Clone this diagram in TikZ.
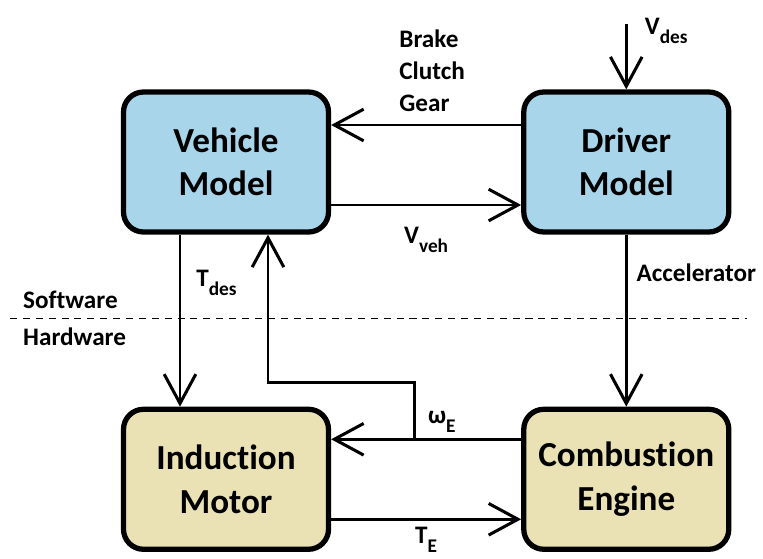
\documentclass[tikz,border=0pt]{standalone}
\usepackage{fontspec}
\setmainfont{Carlito}[Ligatures=NoCommon]
\usetikzlibrary{arrows.meta,positioning,calc}
\definecolor{modelblue}{RGB}{169,213,234}
\definecolor{plantbeige}{RGB}{234,226,180}
\newcommand{\lowidx}[1]{\raisebox{-7.5pt}{\fontsize{16.5}{16.5}\selectfont #1}}
\tikzset{
    block/.style={
        draw,
        rectangle,
        rounded corners=0.6cm,
        line width=4.5pt,
        minimum width=6.15cm,
        minimum height=4.2cm,
        align=center,
        font=\fontsize{30}{37}\selectfont\bfseries
    },
    software/.style={
        block,
        fill=modelblue
    },
    hardware/.style={
        block,
        fill=plantbeige
    },
    signal/.style={
        line width=2.2pt,
        -{Straight Barb[length=25pt,width=27pt,line width=2.6pt]}
    },
    label/.style={
        font=\fontsize{21.5}{27.3}\selectfont\bfseries,
        inner sep=2pt,
        align=left
    },
    border/.style={
        thin,
        dash pattern=on 6pt off 5pt
    },
}

\begin{document}
\begin{tikzpicture}[node distance = 5.16cm and 5.7cm]
    \useasboundingbox (0,0) rectangle (22.89,-16.74);
    % blocks
    \node[software] (vehicle) at (6.78,-4.86) {Vehicle\\Model};
    \node[software, right= of vehicle] (driver) {Driver\\Model};
    \node[hardware, below= of vehicle] (motor) {Induction\\Motor};
    \node[hardware, below= of driver] (engine) {Combustion\\Engine};

    % free ends
    \coordinate (vdes) at ([yshift=1.95cm]driver.north);
    \coordinate (junc) at ([xshift=2.5cm, yshift=1.2cm]motor.east);
    \coordinate (fbk) at ([xshift=1.26cm, yshift=0.72cm]motor.north);
    \coordinate (sepL) at (0.3,-9.54);
    \coordinate (sepR) at (22.4,-9.54);

    % software / hardware border
    \draw[border] (sepL) -- (sepR);
    \node[label, anchor=base west] (sw) at (0.62,-9.24) {Software};
    \node[label, anchor=base west] (hw) at (0.62,-10.35) {Hardware};

    % lines
    \draw[signal] ([yshift=1.11cm]driver.west) -- node[label, above, yshift=0.3cm, xshift=0.18cm] {Brake\\Clutch\\Gear} ([yshift=1.11cm]vehicle.east);
    \draw[signal] ([yshift=-1.29cm]vehicle.east) -- node[label, below, yshift=-0.55cm] {V\lowidx{veh}} ([yshift=-1.29cm]driver.west);
    \draw[signal] (vdes) node[label, anchor=north west, xshift=0.45cm, yshift=0.3cm] {V\lowidx{des}} -- (driver.north);
    \draw[signal] ([xshift=-1.38cm]vehicle.south) -- node[label, right, pos=0.28, xshift=0.38cm] {T\lowidx{des}} ([xshift=-1.38cm]motor.north);
    \draw[signal] (driver.south) -- node[label, right, pos=0.22, xshift=0.2cm] {Accelerator} (engine.north);
    \draw[signal] ([yshift=1.2cm]engine.west) -- ([yshift=1.2cm]motor.east);
    \draw[signal] (junc) node[label, above right, xshift=0.3cm, yshift=0.1cm] {ω\lowidx{E}} |- (fbk) -- ([xshift=1.26cm]vehicle.south);
    \draw[signal] ([yshift=-1.2cm]motor.east) -- node[label, below, yshift=-0.12cm] {T\lowidx{E}} ([yshift=-1.2cm]engine.west);

\end{tikzpicture}
\end{document}
